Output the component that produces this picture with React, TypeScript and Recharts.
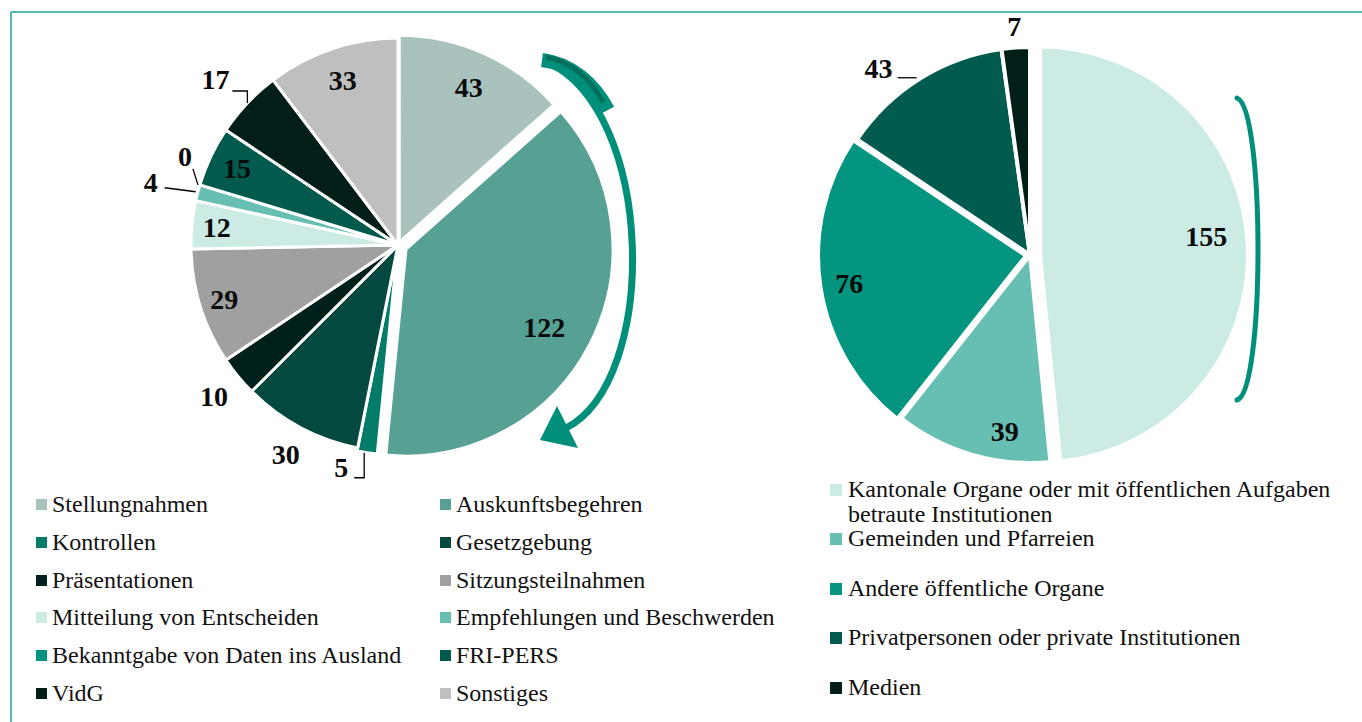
import React from 'react';
import { PieChart, Pie, Cell } from 'recharts';

// ---------- DATA ----------
const leftCategories = [
  'Stellungnahmen',
  'Auskunftsbegehren',
  'Kontrollen',
  'Gesetzgebung',
  'Präsentationen',
  'Sitzungsteilnahmen',
  'Mitteilung von Entscheiden',
  'Empfehlungen und Beschwerden',
  'Bekanntgabe von Daten ins Ausland',
  'FRI-PERS',
  'VidG',
  'Sonstiges',
];
const leftValues = [43, 122, 5, 30, 10, 29, 12, 4, 0, 15, 17, 33];

const rightCategories = [
  'Kantonale Organe oder mit öffentlichen Aufgaben betraute Institutionen',
  'Gemeinden und Pfarreien',
  'Andere öffentliche Organe',
  'Privatpersonen oder private Institutionen',
  'Medien',
];
const rightValues = [155, 39, 76, 43, 7];

// ---------- STYLE ----------
const leftColors = ['#A9C2BD', '#56A094', '#037B69', '#03493F', '#02201B', '#A0A0A0', '#CDEBE5', '#67BFB3', '#009480', '#02594D', '#021E19', '#BFBFBF'];
const rightColors = ['#CDEBE5', '#67BFB3', '#03957F', '#015B4E', '#021E19'];
const leftExplode = [3, 9, 3, 0, 0, 0, 0, 0, 0, 0, 0, 0];
const rightExplode = [10, 0, 4, 0, 0];

type LabelLayout = { mode: 'in' | 'out' | 'call'; k?: number; lx?: number; ly?: number; pts?: number[][]; dx?: number; dy?: number };

const leftLabelLayout: LabelLayout[] = [
  { mode: 'in', k: 0.82 },
  { mode: 'in', k: 0.75, dy: 8 },
  { mode: 'call', lx: -26, ly: 15, pts: [[-3, 0], [-3, 25], [-13, 25]] },
  { mode: 'out', k: 1.15 },
  { mode: 'out', k: 1.15 },
  { mode: 'in', k: 0.88 },
  { mode: 'in', k: 0.88 },
  { mode: 'call', lx: -47, ly: -10, pts: [[-2, -1], [-33, -5]] },
  { mode: 'call', lx: -15, ly: -28, pts: [[-2, 0], [-7, -16]] },
  { mode: 'in', k: 0.86 },
  { mode: 'call', lx: -32, ly: -24, pts: [[0, 0], [0, -12], [-15, -12]] },
  { mode: 'in', k: 0.84 },
];
const rightLabelLayout: LabelLayout[] = [
  { mode: 'in', k: 0.8, dy: -10 },
  { mode: 'in', k: 0.86, dx: 25, dy: 5 },
  { mode: 'in', k: 0.86 },
  { mode: 'call', lx: -41, ly: -10, pts: [[-3, -1], [-22, -1]] },
  { mode: 'out', k: 1.1 },
];

const FONT = '"Liberation Serif", "Times New Roman", serif';
const TEAL = '#008F7A';
const RAD = Math.PI / 180;

const leftData = leftCategories.map((name, i) => ({ name, value: leftValues[i] }));
const rightData = rightCategories.map((name, i) => ({ name, value: rightValues[i] }));

function explodeOffsets(values: number[], explode: number[]) {
  const total = values.reduce((a, b) => a + b, 0);
  let cum = 0;
  return values.map((v, i) => {
    const mid = ((cum + v / 2) / total) * 2 * Math.PI;
    cum += v;
    return [Math.sin(mid) * explode[i], -Math.cos(mid) * explode[i]];
  });
}
const leftOffsets = explodeOffsets(leftValues, leftExplode);
const rightOffsets = explodeOffsets(rightValues, rightExplode);

function makeLabel(layout: LabelLayout[], offsets: number[][], data: { name: string; value: number }[]) {
  return (p: any) => {
    const name = p.name ?? (p.payload && p.payload.name);
    let index = typeof p.index === 'number' ? p.index : data.findIndex((d) => d.name === name);
    if (index < 0) index = 0;
    const L = layout[index];
    const value = data[index].value;
    const ux = Math.cos(-p.midAngle * RAD);
    const uy = Math.sin(-p.midAngle * RAD);
    const [ox, oy] = offsets[index];
    const cx = p.cx + ox;
    const cy = p.cy + oy;
    const r = p.outerRadius;
    const textProps = {
      fontFamily: FONT,
      fontWeight: 700,
      fontSize: 28,
      fill: '#0a0a0a',
      textAnchor: 'middle' as const,
      dominantBaseline: 'central' as const,
    };
    if (L.mode === 'call') {
      const ex = cx + ux * r;
      const ey = cy + uy * r;
      const pts = (L.pts || []).map(([a, b]) => `${ex + a},${ey + b}`).join(' ');
      return (
        <g key={`lbl-${index}`}>
          <polyline points={pts} fill="none" stroke="#000" strokeWidth={1.3} />
          <text x={ex + (L.lx || 0)} y={ey + (L.ly || 0)} {...textProps}>{value}</text>
        </g>
      );
    }
    const k = L.k || 0.8;
    const x = cx + ux * r * k + (L.dx || 0);
    const y = cy + uy * r * k + (L.dy || 0);
    return (
      <text key={`lbl-${index}`} x={x} y={y} {...textProps}>{value}</text>
    );
  };
}

const legendText: React.CSSProperties = {
  fontFamily: FONT,
  fontSize: 24,
  color: '#111',
  lineHeight: '26px',
  position: 'absolute',
  whiteSpace: 'nowrap',
};

export default function App() {
  return (
    <div style={{ position: 'absolute', left: 0, top: 0, width: 1362, height: 722, background: '#fff', overflow: 'hidden' }}>
      <PieChart width={1362} height={722} margin={{ top: 0, right: 0, bottom: 0, left: 0 }}>
        <Pie
          data={leftData}
          dataKey="value"
          nameKey="name"
          cx={398}
          cy={245}
          outerRadius={207}
          startAngle={90}
          endAngle={-270}
          stroke="#fff"
          strokeWidth={3}
          isAnimationActive={false}
          labelLine={false}
          label={makeLabel(leftLabelLayout, leftOffsets, leftData)}
        >
          {leftData.map((d, i) => (
            <Cell key={d.name} fill={leftColors[i]} transform={`translate(${leftOffsets[i][0]},${leftOffsets[i][1]})`} />
          ))}
        </Pie>
        <Pie
          data={rightData}
          dataKey="value"
          nameKey="name"
          cx={1030}
          cy={255}
          outerRadius={208}
          startAngle={90}
          endAngle={-270}
          stroke="#fff"
          strokeWidth={4}
          isAnimationActive={false}
          labelLine={false}
          label={makeLabel(rightLabelLayout, rightOffsets, rightData)}
        >
          {rightData.map((d, i) => (
            <Cell key={d.name} fill={rightColors[i]} transform={`translate(${rightOffsets[i][0]},${rightOffsets[i][1]})`} />
          ))}
        </Pie>
      </PieChart>

      {/* decorations: frame and arrows */}
      <svg width={1362} height={722} style={{ position: 'absolute', left: 0, top: 0, pointerEvents: 'none' }}>
        <line x1={11} y1={12} x2={1362} y2={12} stroke="#17A593" strokeWidth={1.5} />
        <line x1={11} y1={12} x2={11} y2={722} stroke="#17A593" strokeWidth={1.5} />
        <path d="M 547 62 C 655 110, 660 380, 566 428" fill="none" stroke={TEAL} strokeWidth={7} />
        <path d="M 542 60 C 572 64, 594 84, 608 110" fill="none" stroke={TEAL} strokeWidth={14} />
        <path d="M 546 57 C 572 62, 591 80, 603 102" fill="none" stroke="#006F5E" strokeWidth={5} />
        <polygon points="540,440 557,406 578,448" fill={TEAL} />
        <path d="M 1237 98 C 1265 108, 1265 392, 1237 400" fill="none" stroke={TEAL} strokeWidth={5} strokeLinecap="round" />
      </svg>

      {/* left legend */}
      {leftCategories.map((name, i) => {
        const row = Math.floor(i / 2);
        const col = i % 2;
        const cy = 504 + row * 37.8;
        const sx = col === 0 ? 36 : 440;
        return (
          <React.Fragment key={name}>
            <div style={{ position: 'absolute', left: sx, top: cy - 5, width: 11, height: 11, background: leftColors[i] }} />
            <div style={{ ...legendText, left: sx + 16, top: cy - 13 }}>{name}</div>
          </React.Fragment>
        );
      })}

      {/* right legend */}
      {rightCategories.map((name, i) => {
        const cy = i === 0 ? 489 : 538 + (i - 1) * 49.6;
        const lh = i === 0 ? 25 : 22;
        return (
          <React.Fragment key={name}>
            <div style={{ position: 'absolute', left: 830, top: cy - 5, width: 12, height: 12, background: rightColors[i] }} />
            <div style={{ ...legendText, lineHeight: `${lh}px`, left: 848, top: cy - lh / 2, whiteSpace: 'normal', width: 500 }}>{name}</div>
          </React.Fragment>
        );
      })}
    </div>
  );
}
